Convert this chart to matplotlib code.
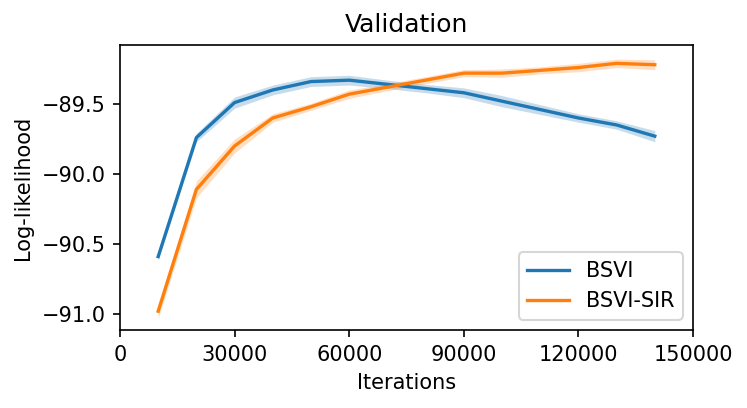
import numpy as np
import matplotlib
matplotlib.use('Agg')
import matplotlib.pyplot as plt

# Iteracoes e log-likelihood de validacao
iteracoes = [10000, 20000, 30000, 40000, 50000, 60000, 70000,
             80000, 90000, 100000, 110000, 120000, 130000, 140000]

bsvi = [-90.59, -89.74, -89.49, -89.40, -89.34, -89.33, -89.36,
        -89.39, -89.42, -89.48, -89.54, -89.60, -89.65, -89.73]
bsvi_erro = [0.02, 0.03, 0.04, 0.035, 0.035, 0.035, 0.03,
             0.03, 0.035, 0.04, 0.035, 0.03, 0.03, 0.04]

bsvi_sir = [-90.98, -90.11, -89.80, -89.60, -89.52, -89.43, -89.38,
            -89.33, -89.28, -89.28, -89.26, -89.24, -89.21, -89.22]
bsvi_sir_erro = [0.05, 0.06, 0.05, 0.03, 0.025, 0.03, 0.025,
                 0.025, 0.025, 0.03, 0.025, 0.03, 0.03, 0.035]


def banda(ax, x, y, e, cor, nome):
    y = np.array(y)
    e = np.array(e)
    ax.fill_between(x, y - e, y + e, color=cor, alpha=0.25, linewidth=0)
    ax.plot(x, y, color=cor, linewidth=1.6, label=nome)


fig, ax = plt.subplots(figsize=(747 / 150, 408 / 150), dpi=150)
plt.subplots_adjust(left=120 / 747, right=693 / 747, top=1 - 45 / 408, bottom=1 - 330 / 408)

banda(ax, iteracoes, bsvi, bsvi_erro, '#1f77b4', 'BSVI')
banda(ax, iteracoes, bsvi_sir, bsvi_sir_erro, '#ff7f0e', 'BSVI-SIR')

ax.set_xlim(0, 150000)
ax.set_xticks([0, 30000, 60000, 90000, 120000, 150000])
ax.set_ylim(-91.114, -89.079)
ax.set_yticks([-91.0, -90.5, -90.0, -89.5])
ax.set_xlabel('Iterations')
ax.set_ylabel('Log-likelihood')
ax.set_title('Validation')
ax.legend(loc='lower right')

plt.savefig('out.png', dpi=150)
